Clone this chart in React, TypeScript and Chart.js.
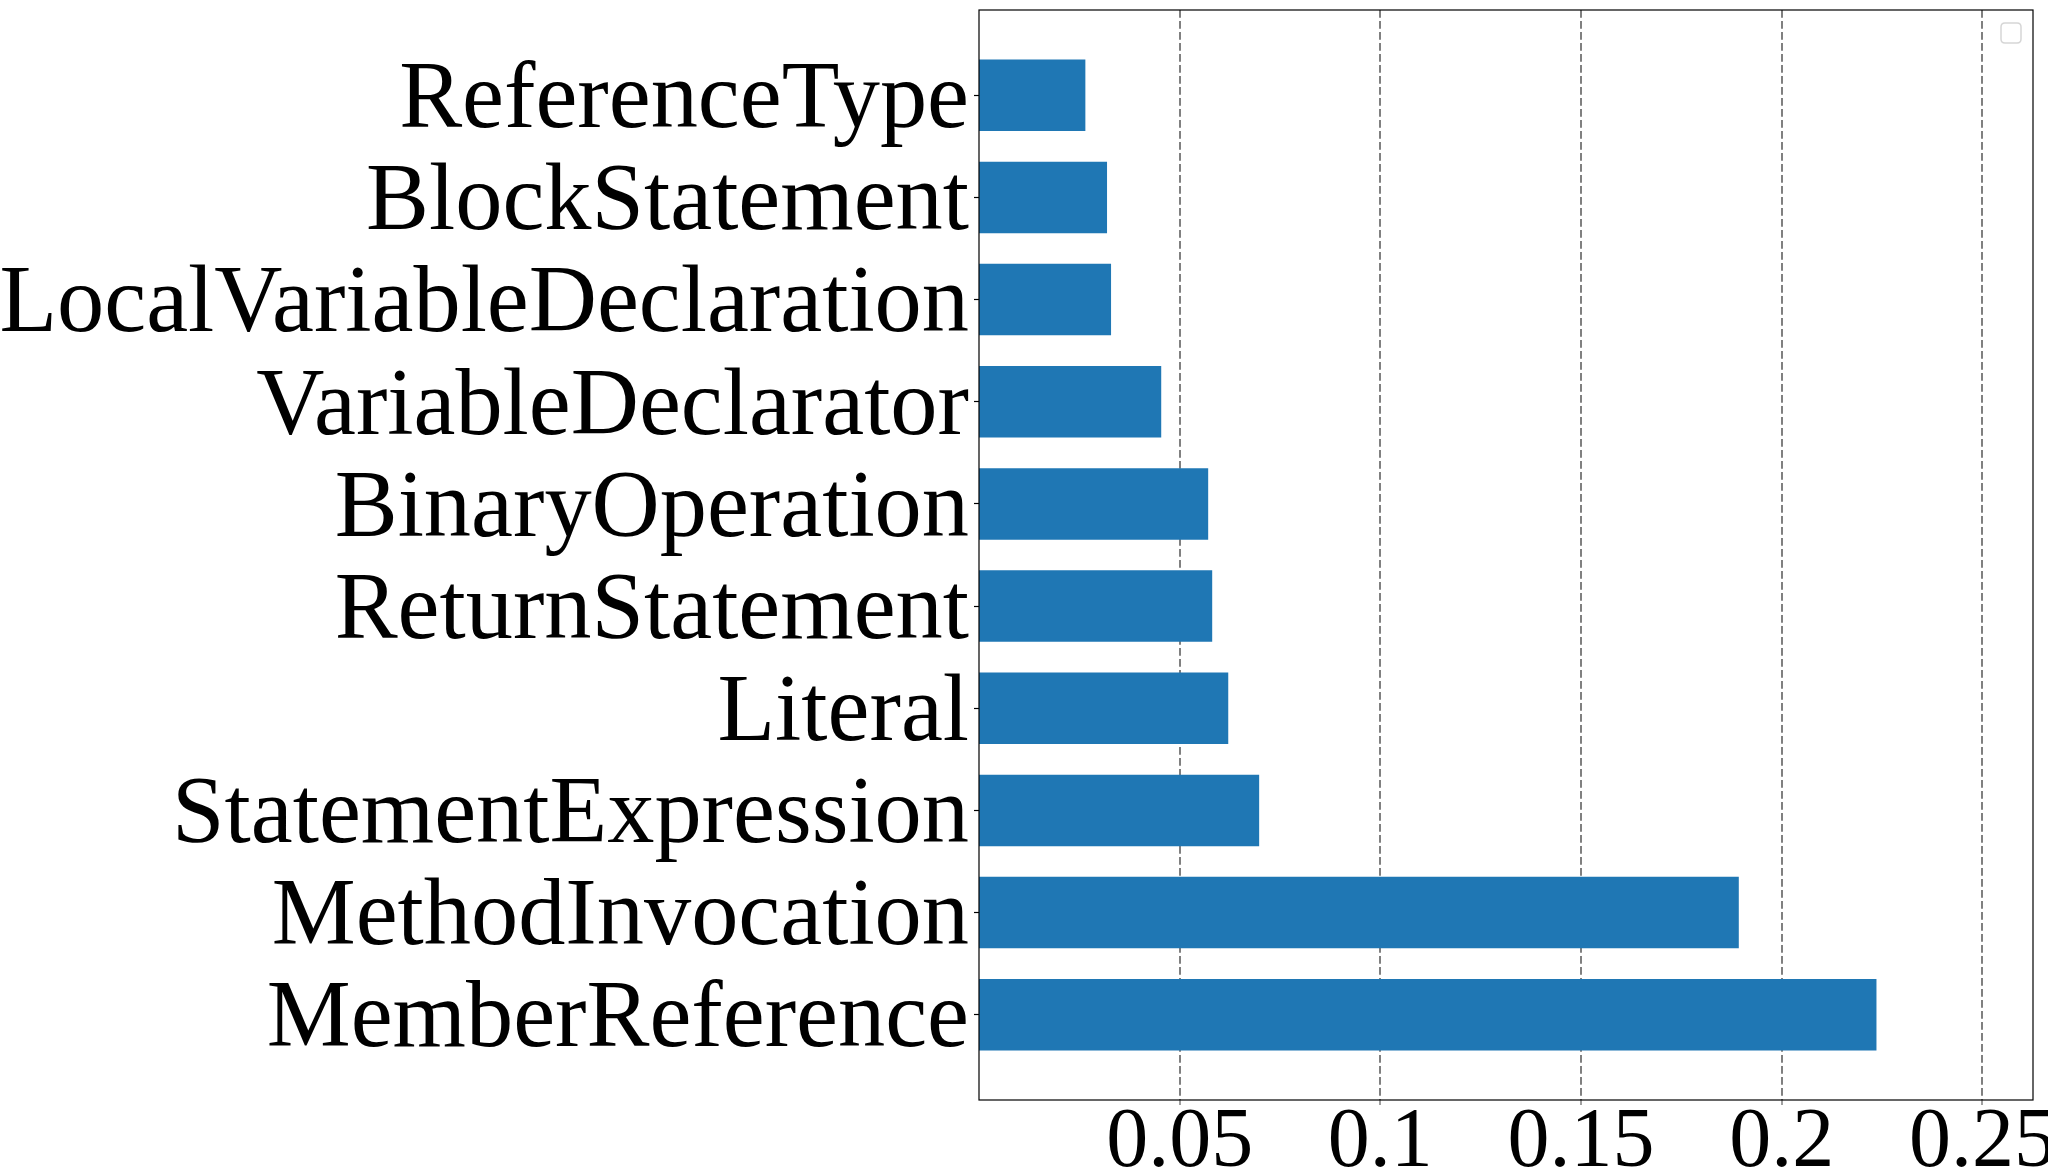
import React, { useEffect, useRef } from "react";
import { Chart, registerables } from "chart.js";

Chart.register(...registerables);

// Categories listed bottom-to-top (matplotlib barh order)
const categories = [
  "MemberReference",
  "MethodInvocation",
  "StatementExpression",
  "Literal",
  "ReturnStatement",
  "BinaryOperation",
  "VariableDeclarator",
  "LocalVariableDeclaration",
  "BlockStatement",
  "ReferenceType",
];

const importance = [
  0.2236, 0.1893, 0.0698, 0.0621, 0.0581, 0.0571, 0.0454, 0.0329, 0.0319, 0.0265,
];

const xTickValues = [0.05, 0.1, 0.15, 0.2, 0.25];
const xTickLabels = ["0.05", "0.1", "0.15", "0.2", "0.25"];

const CANVAS_W = 2110;
const CANVAS_H = 1173;

const framePlugin = {
  id: "frameAndLegend",
  afterDraw(chart: any) {
    const { ctx, chartArea } = chart;
    ctx.save();
    ctx.strokeStyle = "#000000";
    ctx.lineWidth = 1.2;
    ctx.setLineDash([]);
    ctx.strokeRect(
      chartArea.left,
      chartArea.top,
      chartArea.right - chartArea.left,
      chartArea.bottom - chartArea.top
    );
    // empty legend frame (top-right)
    const w = 20;
    const h = 20;
    const x = chartArea.right - 12 - w;
    const y = chartArea.top + 13;
    const r = 4;
    ctx.beginPath();
    ctx.moveTo(x + r, y);
    ctx.lineTo(x + w - r, y);
    ctx.quadraticCurveTo(x + w, y, x + w, y + r);
    ctx.lineTo(x + w, y + h - r);
    ctx.quadraticCurveTo(x + w, y + h, x + w - r, y + h);
    ctx.lineTo(x + r, y + h);
    ctx.quadraticCurveTo(x, y + h, x, y + h - r);
    ctx.lineTo(x, y + r);
    ctx.quadraticCurveTo(x, y, x + r, y);
    ctx.closePath();
    ctx.fillStyle = "rgba(255,255,255,0.8)";
    ctx.fill();
    ctx.strokeStyle = "#d6d6d6";
    ctx.lineWidth = 1.5;
    ctx.stroke();
    ctx.restore();
  },
};

export default function App() {
  const canvasRef = useRef<HTMLCanvasElement | null>(null);

  useEffect(() => {
    const canvas = canvasRef.current;
    if (!canvas) return;
    const chart = new Chart(canvas, {
      type: "bar",
      data: {
        datasets: [
          {
            data: importance.map((v, i) => ({ x: v, y: i })),
            backgroundColor: "#1f77b4",
            borderWidth: 0,
            barPercentage: 0.7,
            categoryPercentage: 1,
          },
        ],
      },
      options: {
        indexAxis: "y",
        responsive: false,
        animation: false,
        devicePixelRatio: 1,
        layout: {
          padding: { top: 10, right: CANVAS_W - 2033, bottom: 0, left: 0 },
        },
        plugins: {
          legend: { display: false },
          tooltip: { enabled: false },
        },
        scales: {
          x: {
            type: "linear",
            position: "bottom",
            min: 0,
            max: 0.2626,
            offset: false,
            z: 1,
            afterBuildTicks: (scale: any) => {
              scale.ticks = xTickValues.map((v) => ({ value: v }));
            },
            afterFit: (scale: any) => {
              scale.height = CANVAS_H - 1100;
            },
            grid: {
              display: true,
              offset: false,
              drawOnChartArea: true,
              drawTicks: true,
              color: "#808080",
              lineWidth: 2,
              tickLength: 5,
              tickColor: "#808080",
              tickWidth: 1.5,
              tickBorderDash: [],
            },
            border: {
              display: false,
              dash: [7.7, 3.3],
            },
            ticks: {
              autoSkip: false,
              maxRotation: 0,
              minRotation: 0,
              color: "#000000",
              padding: -3,
              font: { family: "'Liberation Serif', 'Times New Roman', serif", size: 84, lineHeight: 1 },
              callback: (_v: any, index: number) => xTickLabels[index],
            },
          },
          y: {
            type: "linear",
            position: "left",
            min: -0.835,
            max: 9.835,
            offset: false,
            afterBuildTicks: (scale: any) => {
              scale.ticks = categories.map((_c, i) => ({ value: i }));
            },
            afterFit: (scale: any) => {
              scale.width = 979;
              scale.paddingTop = 0;
              scale.paddingBottom = 0;
            },
            grid: {
              display: true,
              offset: false,
              drawOnChartArea: false,
              drawTicks: true,
              tickLength: 5,
              tickColor: "#000000",
              tickWidth: 1.2,
            },
            border: { display: false },
            ticks: {
              autoSkip: false,
              color: "#000000",
              padding: 5,
              labelOffset: 7,
              font: { family: "'Liberation Serif', 'Times New Roman', serif", size: 94.4, lineHeight: 0.1 },
              callback: (v: any) => categories[Math.round(Number(v))] ?? "",
            },
          },
        },
      },
      plugins: [framePlugin],
    } as any);
    return () => chart.destroy();
  }, []);

  return (
    <div
      style={{
        position: "fixed",
        left: 0,
        top: 0,
        width: 2048,
        height: 1173,
        overflow: "hidden",
        background: "#ffffff",
      }}
    >
      <div style={{ width: CANVAS_W, height: CANVAS_H }}>
        <canvas ref={canvasRef} width={CANVAS_W} height={CANVAS_H} style={{ display: "block" }} />
      </div>
    </div>
  );
}
